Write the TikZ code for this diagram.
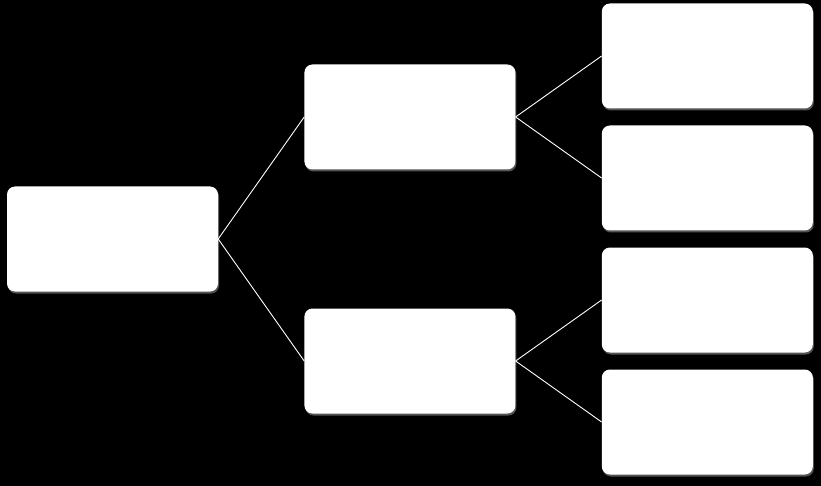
\documentclass[tikz,border=0pt]{standalone}
\usetikzlibrary{positioning,shadows}

\begin{document}
\begin{tikzpicture}[node distance=86pt]
    % styles for the boxes and the links
    \tikzstyle{box} = [rectangle, rounded corners=8pt, minimum width=211pt, minimum height=105pt, draw=none, fill=white, drop shadow={fill=gray!70, shadow xshift=1pt, shadow yshift=-2pt}]
    \tikzstyle{link} = [draw=white, line width=0.9pt]

    % black background, fixes the size
    \fill[black] (0,0) rectangle (821pt,-486pt);
    \useasboundingbox (0,0) rectangle (821pt,-486pt);

    % boxes
    \node [box] at (112.5pt,-239pt) (root) {};
    \node [box, right=of root, yshift=122pt] (midA) {};
    \node [box, right=of root, yshift=-122pt] (midB) {};
    \node [box, right=of midA, yshift=61pt] (leafA) {};
    \node [box, right=of midA, yshift=-61pt] (leafB) {};
    \node [box, right=of midB, yshift=61pt] (leafC) {};
    \node [box, right=of midB, yshift=-61pt] (leafD) {};

    % links
    \draw [link] (root.east) -- (midA.west);
    \draw [link] (root.east) -- (midB.west);
    \draw [link] (midA.east) -- (leafA.west);
    \draw [link] (midA.east) -- (leafB.west);
    \draw [link] (midB.east) -- (leafC.west);
    \draw [link] (midB.east) -- (leafD.west);
\end{tikzpicture}
\end{document}
